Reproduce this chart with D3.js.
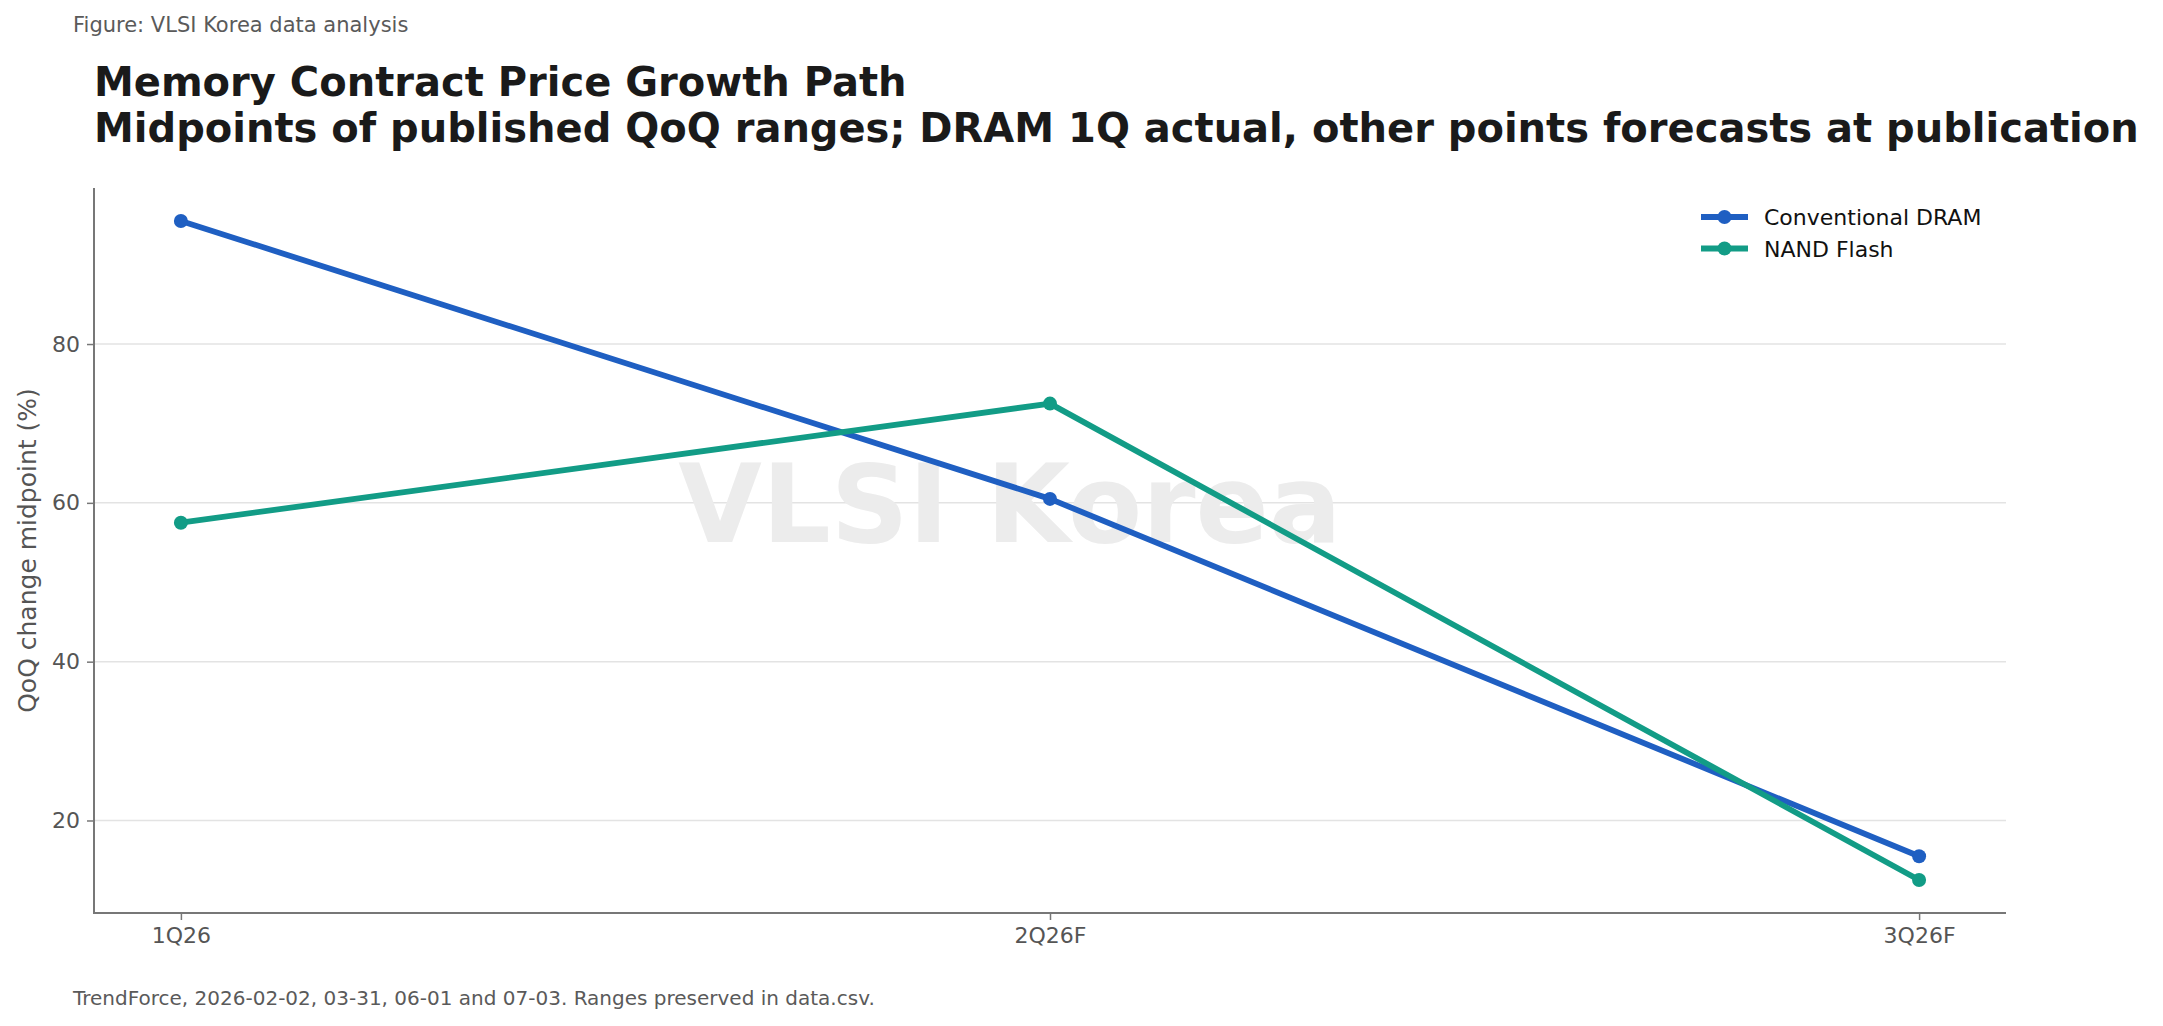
<!DOCTYPE html>
<html>
<head>
<meta charset="utf-8">
<script src="https://cdn.jsdelivr.net/npm/d3@7"></script>
<style>
  body { margin: 0; background: #fff; }
  text { font-family: 'DejaVu Sans', sans-serif; }
</style>
</head>
<body>
<div id="canvas"></div>
<script>
// quarters and midpoints of published QoQ ranges (%)
var quarters = ['1Q26', '2Q26F', '3Q26F'];
var dramValues = [95.5, 60.5, 15.5];
var nandValues = [57.5, 72.5, 12.5];
var seriesNames = ['Conventional DRAM', 'NAND Flash'];
var yTicks = [20, 40, 60, 80];

var colors = ['#1f5fc2', '#129c86'];

svg = d3.select('#canvas').append('svg')
  .attr('width', 2163)
  .attr('height', 1026);

var plotLeft = 94, plotRight = 2006, plotTop = 188, plotBottom = 913;

// matplotlib-like 5% margins around the data
var yMin = d3.min(dramValues.concat(nandValues));
var yMax = d3.max(dramValues.concat(nandValues));
var yPad = (yMax - yMin) * 0.05;

// x on the quarter index, with the same 5% margin
var xi = d3.scaleLinear()
  .domain([-0.1, quarters.length - 1 + 0.1])
  .range([plotLeft, plotRight]);

y = d3.scaleLinear()
  .domain([yMin - yPad, yMax + yPad])
  .range([plotBottom, plotTop]);

// grid
svg.append('g').selectAll('line')
  .data(yTicks)
  .join('line')
  .attr('x1', plotLeft).attr('x2', plotRight)
  .attr('y1', function(d) { return y(d); })
  .attr('y2', function(d) { return y(d); })
  .attr('stroke', '#e3e3e3')
  .attr('stroke-width', 1.5);

// watermark
svg.append('text')
  .attr('x', 1010)
  .attr('y', 542)
  .attr('text-anchor', 'middle')
  .style('font-size', '108px')
  .style('font-weight', 'bold')
  .attr('fill', '#ececec')
  .text('VLSI Korea');

// axes
var yAxis = d3.axisLeft(y).tickValues(yTicks).tickSize(7).tickPadding(7);
var ga = svg.append('g').attr('transform', 'translate(' + plotLeft + ',0)').call(yAxis);
ga.select('.domain').remove();

var xAxis = d3.axisBottom(xi).tickValues(d3.range(quarters.length))
  .tickFormat(function(i) { return quarters[i]; })
  .tickSize(7).tickPadding(7);
var gb = svg.append('g').attr('transform', 'translate(0,' + plotBottom + ')').call(xAxis);
gb.select('.domain').remove();

[ga, gb].forEach(function(g) {
  g.selectAll('line').attr('stroke', '#777').attr('stroke-width', 1.5);
  g.selectAll('text')
    .style('font-family', "'DejaVu Sans', sans-serif")
    .style('font-size', '22px')
    .attr('fill', '#555');
});

// spines
svg.append('path')
  .attr('d', 'M' + plotLeft + ' ' + plotTop + ' V ' + plotBottom + ' H ' + plotRight)
  .attr('fill', 'none')
  .attr('stroke', '#777')
  .attr('stroke-width', 2);

// lines + markers
var series = [dramValues, nandValues];
var line = d3.line()
  .x(function(d, i) { return xi(i); })
  .y(function(d) { return y(d); });

series.forEach(function(vals, k) {
  svg.append('path')
    .datum(vals)
    .attr('d', line)
    .attr('fill', 'none')
    .attr('stroke', colors[k])
    .attr('stroke-width', 5.8)
    .attr('stroke-linejoin', 'round');
  svg.append('g').selectAll('circle')
    .data(vals)
    .join('circle')
    .attr('cx', function(d, i) { return xi(i); })
    .attr('cy', function(d) { return y(d); })
    .attr('r', 7)
    .attr('fill', colors[k]);
});

// legend
var legend = svg.append('g').attr('transform', 'translate(1701,217)');
seriesNames.forEach(function(name, k) {
  var row = legend.append('g').attr('transform', 'translate(0,' + (k * 31.5) + ')');
  row.append('line')
    .attr('x1', 0).attr('x2', 47)
    .attr('stroke', colors[k])
    .attr('stroke-width', 5.8);
  row.append('circle')
    .attr('cx', 23.5).attr('r', 7)
    .attr('fill', colors[k]);
  row.append('text')
    .attr('x', 63)
    .attr('y', 8)
    .style('font-size', '22px')
    .attr('fill', '#111')
    .text(name);
});

// y label
svg.append('text')
  .attr('transform', 'translate(36,' + ((plotTop + plotBottom) / 2) + ') rotate(-90)')
  .attr('text-anchor', 'middle')
  .style('font-size', '25px')
  .attr('fill', '#555')
  .text('QoQ change midpoint (%)');

// titles
svg.append('text')
  .attr('x', 73).attr('y', 32)
  .style('font-size', '21px')
  .attr('fill', '#5a5a5a')
  .text('Figure: VLSI Korea data analysis');

svg.append('text')
  .attr('x', 94).attr('y', 96)
  .style('font-size', '40px')
  .style('font-weight', 'bold')
  .attr('fill', '#1a1a1a')
  .text('Memory Contract Price Growth Path');

svg.append('text')
  .attr('x', 94).attr('y', 142)
  .style('font-size', '40px')
  .style('font-weight', 'bold')
  .attr('fill', '#1a1a1a')
  .text('Midpoints of published QoQ ranges; DRAM 1Q actual, other points forecasts at publication');

svg.append('text')
  .attr('x', 73).attr('y', 1005)
  .style('font-size', '20px')
  .attr('fill', '#5a5a5a')
  .text('TrendForce, 2026-02-02, 03-31, 06-01 and 07-03. Ranges preserved in data.csv.');
</script>
</body>
</html>
